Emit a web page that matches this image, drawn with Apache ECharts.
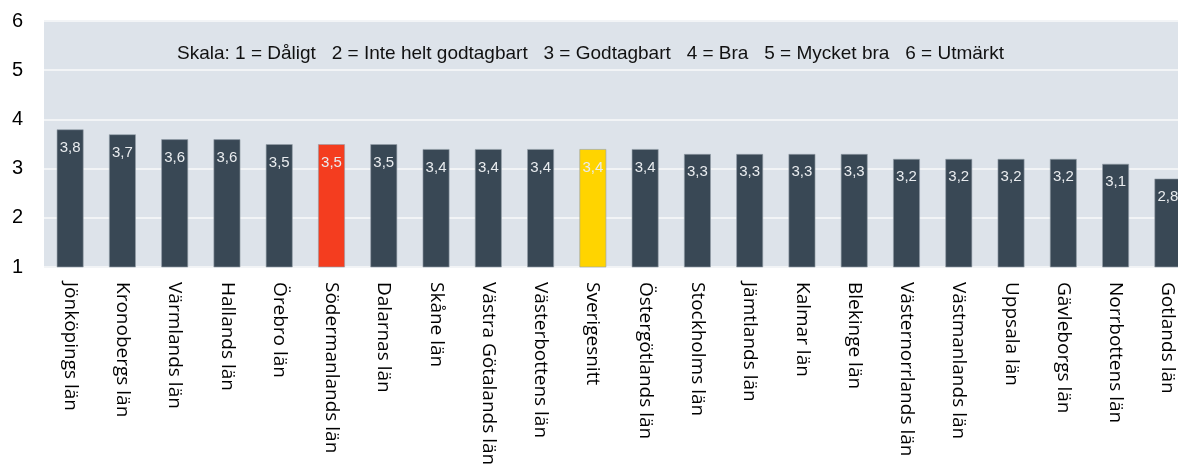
<!DOCTYPE html>
<html>
<head>
<meta charset="utf-8">
<script src="https://cdn.jsdelivr.net/npm/echarts@6/dist/echarts.min.js"></script>
<style>
html, body { margin: 0; padding: 0; background: #fff; }
#chart { width: 1178px; height: 471px; }
</style>
</head>
<body>
<div id="chart"></div>
<script>
// län och betyg
const categories = ['Jönköpings län', 'Kronobergs län', 'Värmlands län', 'Hallands län', 'Örebro län',
    'Södermanlands län', 'Dalarnas län', 'Skåne län', 'Västra Götalands län', 'Västerbottens län',
    'Sverigesnitt', 'Östergötlands län', 'Stockholms län', 'Jämtlands län', 'Kalmar län',
    'Blekinge län', 'Västernorrlands län', 'Västmanlands län', 'Uppsala län', 'Gävleborgs län',
    'Norrbottens län', 'Gotlands län'];
const values = [3.8, 3.7, 3.6, 3.6, 3.5, 3.5, 3.5, 3.4, 3.4, 3.4, 3.4, 3.4, 3.3, 3.3, 3.3, 3.3,
    3.2, 3.2, 3.2, 3.2, 3.1, 2.8];
const highlight = { 'Södermanlands län': '#f43d1f', 'Sverigesnitt': '#ffd400' };
const yTicks = [1, 2, 3, 4, 5, 6];
const scaleText = 'Skala: 1 = Dåligt   2 = Inte helt godtagbart   3 = Godtagbart   4 = Bra   5 = Mycket bra   6 = Utmärkt';

const chart = echarts.init(document.getElementById('chart'));
const opt = {
    animation: false,
    title: {
        text: scaleText,
        left: 172,
        top: 39,
        textStyle: { fontFamily: 'Liberation Sans', fontSize: 19, fontWeight: 'normal', color: '#111' }
    },
    grid: {
        left: 44,
        width: 1150, // sista stapeln går utanför bilden
        top: 21,
        bottom: 204,
        outerBoundsMode: 'none',
        show: true,
        backgroundColor: '#dde3ea',
        borderWidth: 0
    },
    xAxis: {
        type: 'category',
        data: categories,
        axisLine: { show: false },
        axisTick: { show: false },
        axisLabel: {
            rotate: -90,
            interval: 0,
            margin: 15,
            fontFamily: 'Open Sans',
            fontSize: 19,
            color: '#000'
        }
    },
    yAxis: {
        type: 'value',
        min: yTicks[0],
        max: yTicks[yTicks.length - 1],
        interval: 1,
        axisLine: { show: false },
        axisTick: { show: false },
        splitLine: { lineStyle: { color: '#f2f4f6', width: 2 } },
        axisLabel: {
            margin: 21,
            fontFamily: 'Liberation Sans',
            fontSize: 20,
            color: '#000'
        }
    },
    series: [{
        type: 'bar',
        barWidth: '52%',
        data: values.map(function (v, i) {
            const c = highlight[categories[i]];
            return c ? { value: v, itemStyle: { color: c } } : v;
        }),
        itemStyle: {
            color: '#394855',
            borderColor: 'rgba(150,160,170,0.6)',
            borderWidth: 1
        },
        label: {
            show: true,
            position: 'insideTop',
            distance: 11,
            fontFamily: 'Liberation Sans',
            fontSize: 15,
            color: '#e9ecef',
            formatter: function (p) { return String(p.value).replace('.', ','); }
        }
    }]
};
chart.setOption(opt);
</script>
</body>
</html>
